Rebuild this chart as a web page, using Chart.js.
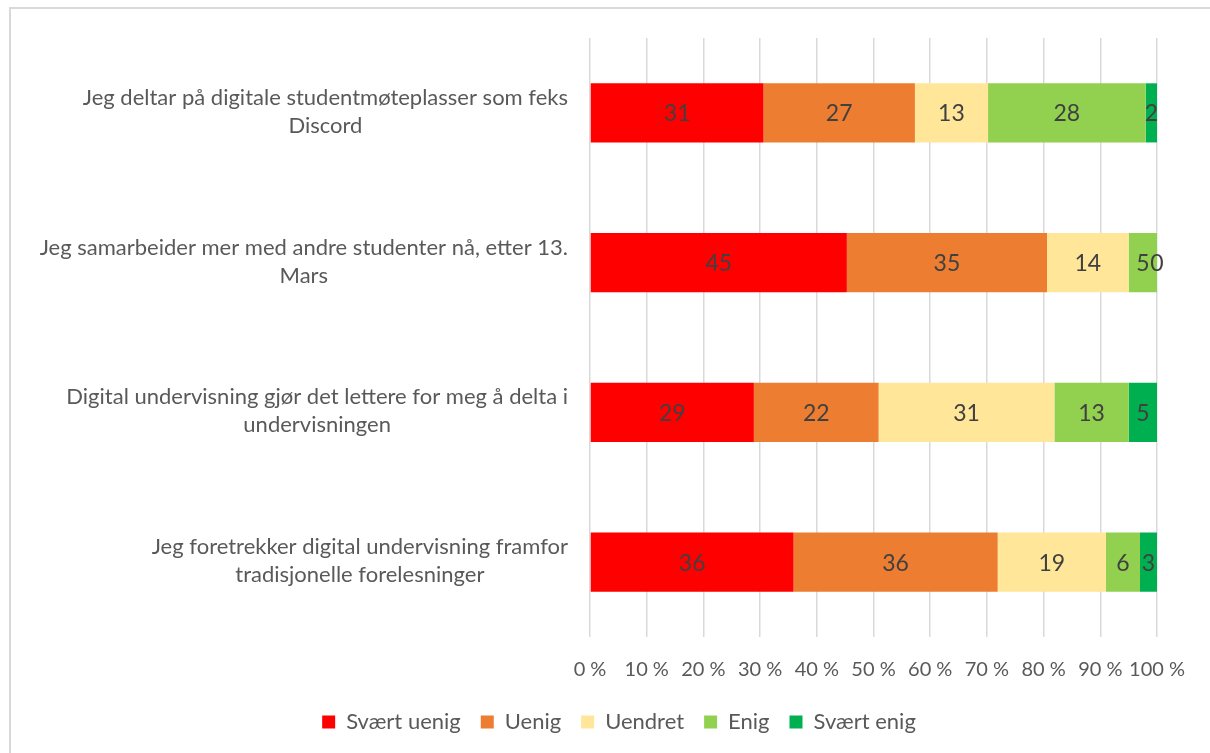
<!DOCTYPE html>
<html>
<head>
<meta charset="utf-8">
<script src="https://cdn.jsdelivr.net/npm/chart.js@4/dist/chart.umd.min.js"></script>
<style>
  html, body { margin: 0; padding: 0; background: #fff; overflow: hidden; }
  .frame {
    position: absolute; left: 9px; top: 7px; width: 1300px; height: 900px;
    border: 2px solid #d9d9d9; box-sizing: border-box;
  }
  .wrap { position: absolute; left: 0; top: 0; width: 1210px; height: 753px; }
</style>
</head>
<body>
<div class="frame"></div>
<div class="wrap"><canvas id="likertChart"></canvas></div>
<script>
// Categories (each one a list of lines, as wrapped in the original)
const questions = [
  ["Jeg deltar på digitale studentmøteplasser som feks", "Discord"],
  ["Jeg samarbeider mer med andre studenter nå, etter 13.", "Mars"],
  ["Digital undervisning gjør det lettere for meg å delta i", "undervisningen"],
  ["Jeg foretrekker digital undervisning framfor", "tradisjonelle forelesninger"],
];

// Answer shares in percent, one array per answer option
const sværtUenig = [30.6, 45.3, 28.9, 35.9];
const uenig      = [26.7, 35.3, 22.0, 36.0];
const uendret    = [12.9, 14.4, 31.0, 19.1];
const enig       = [27.8, 5.0, 13.1, 6.0];
const sværtEnig  = [2.0, 0.0, 5.0, 3.0];

const seriesNames = ["Svært uenig", "Uenig", "Uendret", "Enig", "Svært enig"];
const seriesColors = ["#FF0000", "#ED7D31", "#FFE699", "#92D050", "#00B050"];

const xTicks = [0, 10, 20, 30, 40, 50, 60, 70, 80, 90, 100];

const FONT = "Lato, 'Open Sans', sans-serif";
const TEXT_GREY = "#595959";

// Draws the wrapped question text, lines centred inside a right-aligned block
const categoryLabels = {
  id: "categoryLabels",
  afterDraw(chart) {
    const ctx = chart.ctx;
    const yScale = chart.scales.y;
    const right = chart.chartArea.left - 22;
    ctx.save();
    ctx.font = "22px " + FONT;
    ctx.fillStyle = TEXT_GREY;
    ctx.textAlign = "center";
    ctx.textBaseline = "middle";
    questions.forEach((lines, i) => {
      const widths = lines.map((l) => ctx.measureText(l).width);
      const maxW = Math.max(...widths);
      const cx = right - maxW / 2;
      const lineH = 28;
      const cy = yScale.getPixelForValue(i);
      const top = cy - (lines.length - 1) * lineH / 2 - 1;
      lines.forEach((l, k) => ctx.fillText(l, cx, top + k * lineH));
    });
    ctx.restore();
  },
};

// Rounded value written in the middle of every segment
const valueLabels = {
  id: "valueLabels",
  afterDatasetsDraw(chart) {
    const ctx = chart.ctx;
    ctx.save();
    ctx.font = "23px " + FONT;
    ctx.fillStyle = "#404040";
    ctx.textAlign = "center";
    ctx.textBaseline = "middle";
    chart.data.datasets.forEach((ds, di) => {
      const meta = chart.getDatasetMeta(di);
      meta.data.forEach((bar, i) => {
        const v = ds.data[i];
        const x = (bar.x + bar.base) / 2;
        ctx.fillText(String(Math.round(v)), x, bar.y + 1);
      });
    });
    ctx.restore();
  },
};

const datasets = [sværtUenig, uenig, uendret, enig, sværtEnig].map((values, i) => ({
  label: seriesNames[i],
  data: values,
  backgroundColor: seriesColors[i],
  borderWidth: 0,
  barPercentage: 0.395,
  categoryPercentage: 1.0,
}));

new Chart(document.getElementById("likertChart"), {
  type: "bar",
  data: {
    labels: questions.map((q) => q.join(" ")),
    datasets: datasets,
  },
  plugins: [categoryLabels, valueLabels],
  options: {
    indexAxis: "y",
    responsive: true,
    maintainAspectRatio: false,
    animation: false,
    layout: {
      padding: { left: 81, right: 53, top: 38, bottom: 10 },
    },
    plugins: {
      legend: {
        display: true,
        position: "bottom",
        labels: {
          color: TEXT_GREY,
          font: { family: FONT, size: 22 },
          boxWidth: 13,
          boxHeight: 13,
          padding: 20,
        },
      },
      tooltip: { enabled: false },
    },
    scales: {
      x: {
        stacked: true,
        min: 0,
        max: 100,
        afterBuildTicks: (scale) => {
          scale.ticks = xTicks.map((v) => ({ value: v }));
        },
        afterFit: (scale) => {
          scale.height = 54;
        },
        ticks: {
          color: TEXT_GREY,
          font: { family: FONT, size: 20 },
          padding: 21,
          maxRotation: 0,
          autoSkip: false,
          callback: (value) => value + " %",
        },
        grid: {
          color: "#d9d9d9",
          lineWidth: 1.5,
          drawTicks: false,
        },
        border: { display: false },
      },
      y: {
        stacked: true,
        afterFit: (scale) => {
          scale.width = 509;
        },
        ticks: { display: false },
        grid: { display: false },
        border: { display: false },
      },
    },
  },
});
</script>
</body>
</html>
